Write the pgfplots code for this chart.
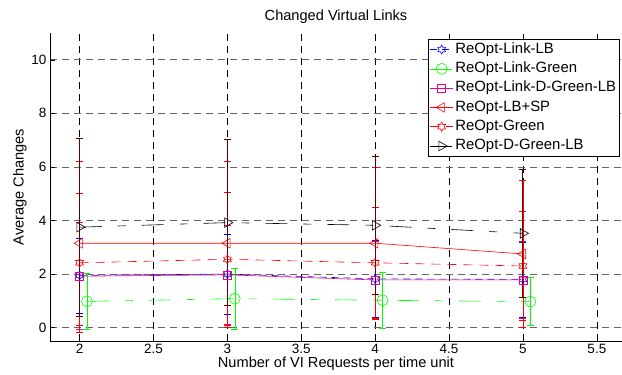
\documentclass[border=0pt]{standalone}
\usepackage{fontspec}
\setmainfont{Liberation Sans}
\usepackage{pgfplots}
\pgfplotsset{compat=1.18}
\pgfdeclareplotmark{hexagram}{%
\pgfpathmoveto{\pgfpointpolar{90}{\pgfplotmarksize}}%
\pgfpathlineto{\pgfpointpolar{120}{0.577\pgfplotmarksize}}%
\pgfpathlineto{\pgfpointpolar{150}{\pgfplotmarksize}}%
\pgfpathlineto{\pgfpointpolar{180}{0.577\pgfplotmarksize}}%
\pgfpathlineto{\pgfpointpolar{210}{\pgfplotmarksize}}%
\pgfpathlineto{\pgfpointpolar{240}{0.577\pgfplotmarksize}}%
\pgfpathlineto{\pgfpointpolar{270}{\pgfplotmarksize}}%
\pgfpathlineto{\pgfpointpolar{300}{0.577\pgfplotmarksize}}%
\pgfpathlineto{\pgfpointpolar{330}{\pgfplotmarksize}}%
\pgfpathlineto{\pgfpointpolar{0}{0.577\pgfplotmarksize}}%
\pgfpathlineto{\pgfpointpolar{30}{\pgfplotmarksize}}%
\pgfpathlineto{\pgfpointpolar{60}{0.577\pgfplotmarksize}}%
\pgfpathclose\pgfusepathqstroke}
\newcommand\lf{\fontsize{14.6}{17}\selectfont}
\newcommand\legf{\fontsize{14.9}{17}\selectfont}
\begin{document}
\begin{tikzpicture}
\useasboundingbox (-50pt,-34pt) rectangle (572pt,341pt);
\begin{axis}[
  scale only axis, width=572pt, height=308pt,
  xmin=1.8, xmax=5.67, ymin=-0.5, ymax=11,
  axis x line*=bottom, axis y line*=left,
  xtick={2,2.5,...,5.5}, ytick={0,2,...,10},
  tick align=inside, major tick length=4.5pt,
  tick style={black, line width=0.5pt},
  axis line style={line width=0.7pt},
  grid=major,
  x grid style={black, dash pattern=on 7pt off 5pt, line width=0.5pt},
  y grid style={black!60, dash pattern=on 7pt off 5pt, line width=0.7pt},
  font=\lf,
  tick label style={font=\fontsize{13.5}{15}\selectfont},
  /pgf/number format/assume math mode=true,
  title={\lf Changed Virtual Links},
  xlabel={\lf Number of VI Requests per time unit},
  ylabel={\lf Average Changes},
  xlabel style={yshift=4pt},
  ylabel style={yshift=-2pt},
  legend style={at={(0.661,0.981)}, anchor=north west, draw=black, line width=0.8pt,
    font=\legf, inner sep=1.5pt, row sep=1.7pt,
    nodes={inner sep=2pt, text height=10.6pt, text depth=3pt},
    cells={anchor=west}, legend cell align=left},
  legend image code/.code={\draw[mark repeat=2,mark phase=2,line width=0.6pt] plot coordinates {(0cm,0cm)(0.4cm,0cm)(0.8cm,0cm)};},
  every axis plot/.append style={line width=0.6pt},
  error bars/y dir=both, error bars/y explicit,
  error bars/error mark options={rotate=90, mark size=3.5pt, line width=0.6pt},
  clip=false,
]
\addplot[blue, dash pattern=on 7pt off 5pt, mark=hexagram, mark size=4.5pt, mark options={solid},
  error bars/error bar style={blue, solid}]
  coordinates {(2,1.95)+-(0,1.4) (3,2.0)+-(0,1.5) (4,1.82)+-(0,1.45) (5,1.8)+-(0,1.4)};
\addlegendentry{\legf ReOpt-Link-LB}
\addplot[green, dash pattern=on 22pt off 16pt on 8pt off 16pt, mark=o, mark size=5.5pt, mark options={solid},
  error bars/error bar style={green, solid}]
  coordinates {(2.05,0.98)+-(0,1.03) (3.05,1.08)+-(0,1.15) (4.05,1.02)+-(0,1.06) (5.05,0.97)+-(0,0.9)};
\addlegendentry{\legf ReOpt-Link-Green}
\addplot[magenta, solid, mark=square, mark size=4pt,
  error bars/error bar style={magenta, solid}]
  coordinates {(2,1.92)+-(0,2.0) (3,1.97)+-(0,1.85) (4,1.78)+-(0,1.45) (5,1.78)+-(0,1.45)};
\addlegendentry{\legf ReOpt-Link-D-Green-LB}
\addplot[red, solid, mark=triangle, mark size=5.5pt, mark options={rotate=90},
  error bars/error bar style={red, solid}]
  coordinates {(2,3.15)+-(0,3.05) (3,3.15)+-(0,3.05) (4,3.15)+-(0,2.85) (5,2.75)+-(0,2.75)};
\addlegendentry{\legf ReOpt-LB+SP}
\addplot[red, dash pattern=on 9pt off 7pt, mark=hexagram, mark size=4.5pt, mark options={solid},
  error bars/error bar style={red, solid}]
  coordinates {(2,2.42)+-(0,2.6) (3,2.55)+-(0,2.52) (4,2.42)+-(0,2.08) (5,2.3)+-(0,2.03)};
\addlegendentry{\legf ReOpt-Green}
\addplot[black, dash pattern=on 22pt off 16pt on 8pt off 16pt, mark=triangle, mark size=5.5pt, mark options={solid, rotate=-90},
  error bars/error bar style={black!65!red, solid, line width=1pt}]
  coordinates {(2,3.75)+-(0,3.32) (3,3.92)+-(0,3.1) (4,3.82)+-(0,2.57) (5,3.52)+-(0,2.4)};
\addlegendentry{\legf ReOpt-D-Green-LB}
\end{axis}
\end{tikzpicture}
\end{document}
